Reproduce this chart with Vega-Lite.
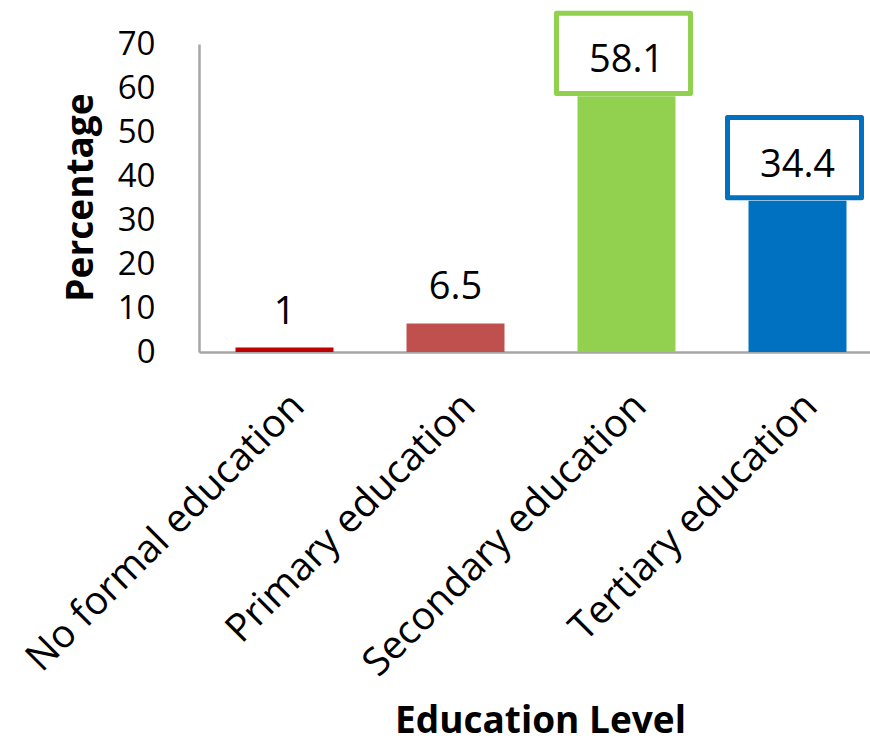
{
  "$schema": "https://vega.github.io/schema/vega-lite/v6.json",
  "autosize": {"type": "none"},
  "padding": {"left": 199, "top": 44, "right": 0, "bottom": 393},
  "width": 671,
  "height": 308,
  "background": "white",
  "config": {
    "view": {"stroke": null},
    "font": "Open Sans"
  },
  "data": {
    "values": [
      {"level": "No formal education", "pct": 1, "boxed": false},
      {"level": "Primary education", "pct": 6.5, "boxed": false},
      {"level": "Secondary education", "pct": 58.1, "boxed": true},
      {"level": "Tertiary education", "pct": 34.4, "boxed": true}
    ]
  },
  "encoding": {
    "x": {
      "field": "level",
      "type": "nominal",
      "sort": null,
      "scale": {"range": [0, 684], "paddingInner": 0.427, "paddingOuter": 0.2135},
      "axis": {
        "title": "Education Level",
        "titleFont": "Open Sans",
        "titleFontSize": 37,
        "titleFontWeight": "bold",
        "titleColor": "black",
        "titleX": 341,
        "titleY": 380,
        "titleAlign": "center",
        "titleBaseline": "alphabetic",
        "labelAngle": -45,
        "labelFontSize": 39,
        "labelColor": "black",
        "labelPadding": 34,
        "labelLimit": 700,
        "ticks": false,
        "tickSize": 0,
        "domainColor": "#a6a6a6",
        "domainWidth": 2.5
      }
    },
    "y": {
      "field": "pct",
      "type": "quantitative",
      "scale": {"domain": [0, 70], "nice": false},
      "axis": {
        "title": "Percentage",
        "titleFontSize": 37,
        "titleFontWeight": "bold",
        "titleColor": "black",
        "titleX": -118,
        "titleY": 153,
        "titleAngle": -90,
        "titleAlign": "center",
        "titleBaseline": "middle",
        "values": [0, 10, 20, 30, 40, 50, 60, 70],
        "labelFontSize": 33,
        "labelColor": "black",
        "labelPadding": 44,
        "ticks": false,
        "tickSize": 0,
        "grid": false,
        "domainColor": "#a6a6a6",
        "domainWidth": 2.5
      }
    }
  },
  "layer": [
    {
      "mark": {"type": "bar"},
      "encoding": {
        "color": {
          "field": "level",
          "type": "nominal",
          "legend": null,
          "scale": {
            "domain": ["No formal education", "Primary education", "Secondary education", "Tertiary education"],
            "range": ["#c00000", "#c0504d", "#92d050", "#0070c0"]
          }
        }
      }
    },
    {
      "transform": [{"filter": "datum.boxed"}],
      "mark": {
        "type": "point",
        "shape": "M-1,-0.6L1,-0.6L1,0.6L-1,0.6Z",
        "size": 17956,
        "filled": false,
        "fill": "white",
        "fillOpacity": 1,
        "strokeWidth": 5,
        "strokeJoin": "round",
        "strokeOpacity": 1,
        "opacity": 1,
        "yOffset": -43,
        "xOffset": -3
      },
      "encoding": {
        "stroke": {
          "field": "level",
          "type": "nominal",
          "legend": null,
          "scale": {
            "domain": ["No formal education", "Primary education", "Secondary education", "Tertiary education"],
            "range": ["#c00000", "#c0504d", "#92d050", "#0070c0"]
          }
        }
      }
    },
    {
      "mark": {
        "type": "text",
        "fontSize": 38,
        "color": "black",
        "baseline": "alphabetic",
        "dy": -24
      },
      "encoding": {
        "text": {"field": "pct", "type": "quantitative"}
      }
    }
  ]
}
